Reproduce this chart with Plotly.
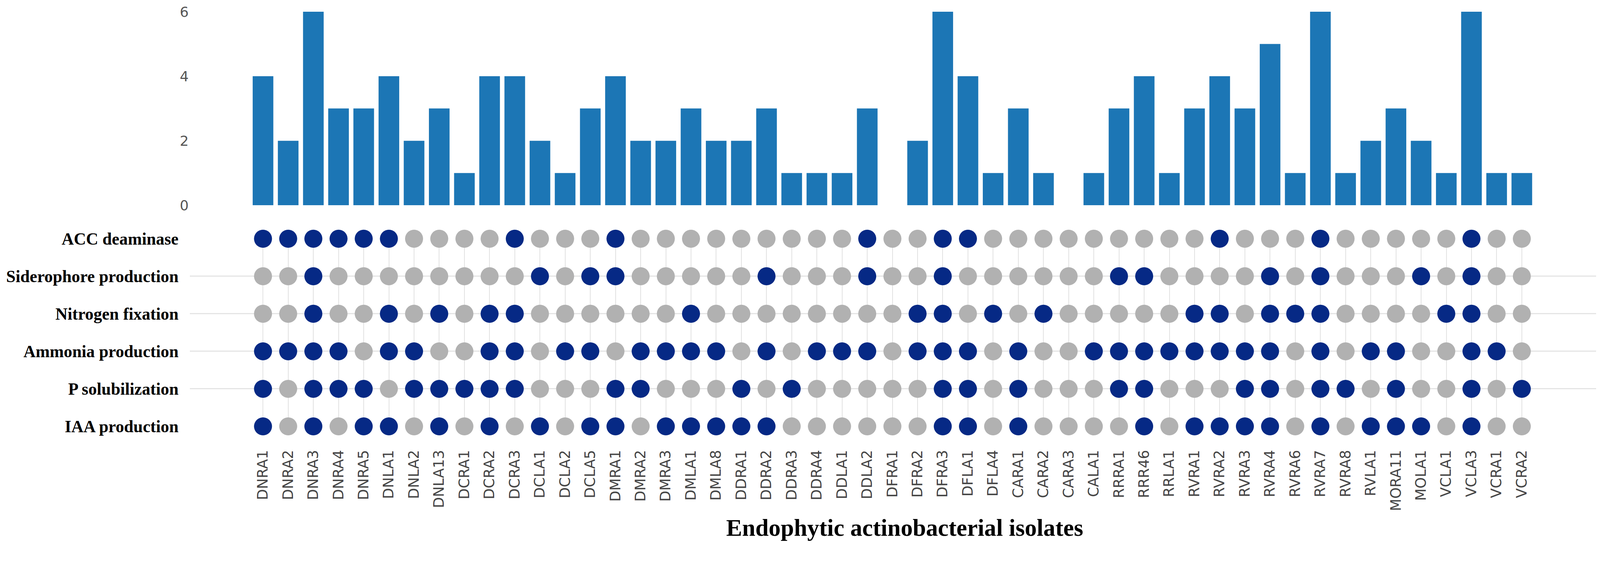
import plotly.graph_objects as go

# isolates, left to right
isolates = ["DNRA1", "DNRA2", "DNRA3", "DNRA4", "DNRA5", "DNLA1", "DNLA2", "DNLA13",
            "DCRA1", "DCRA2", "DCRA3", "DCLA1", "DCLA2", "DCLA5", "DMRA1", "DMRA2",
            "DMRA3", "DMLA1", "DMLA8", "DDRA1", "DDRA2", "DDRA3", "DDRA4", "DDLA1",
            "DDLA2", "DFRA1", "DFRA2", "DFRA3", "DFLA1", "DFLA4", "CARA1", "CARA2",
            "CARA3", "CALA1", "RRRA1", "RRR46", "RRLA1", "RVRA1", "RVRA2", "RVRA3",
            "RVRA4", "RVRA6", "RVRA7", "RVRA8", "RVLA1", "MORA11", "MOLA1", "VCLA1",
            "VCLA3", "VCRA1", "VCRA2"]

# number of positive traits per isolate (bar heights)
counts = [4, 2, 6, 3, 3, 4, 2, 3, 1, 4, 4, 2, 1, 3, 4, 2, 2, 3, 2, 2, 3, 1, 1, 1, 3,
          0, 2, 6, 4, 1, 3, 1, 0, 1, 3, 4, 1, 3, 4, 3, 5, 1, 6, 1, 2, 3, 2, 1, 6, 1, 1]

# 1 = positive, 0 = negative
acc = [1, 1, 1, 1, 1, 1, 0, 0, 0, 0, 1, 0, 0, 0, 1, 0, 0, 0, 0, 0, 0, 0, 0, 0, 1,
       0, 0, 1, 1, 0, 0, 0, 0, 0, 0, 0, 0, 0, 1, 0, 0, 0, 1, 0, 0, 0, 0, 0, 1, 0, 0]
siderophore = [0, 0, 1, 0, 0, 0, 0, 0, 0, 0, 0, 1, 0, 1, 1, 0, 0, 0, 0, 0, 1, 0, 0, 0, 1,
               0, 0, 1, 0, 0, 0, 0, 0, 0, 1, 1, 0, 0, 0, 0, 1, 0, 1, 0, 0, 0, 1, 0, 1, 0, 0]
nitrogen = [0, 0, 1, 0, 0, 1, 0, 1, 0, 1, 1, 0, 0, 0, 0, 0, 0, 1, 0, 0, 0, 0, 0, 0, 0,
            0, 1, 1, 0, 1, 0, 1, 0, 0, 0, 0, 0, 1, 1, 0, 1, 1, 1, 0, 0, 0, 0, 1, 1, 0, 0]
ammonia = [1, 1, 1, 1, 0, 1, 1, 0, 0, 1, 1, 0, 1, 1, 0, 1, 1, 1, 1, 0, 1, 0, 1, 1, 1,
           0, 1, 1, 1, 0, 1, 0, 0, 1, 1, 1, 1, 1, 1, 1, 1, 0, 1, 0, 1, 1, 0, 0, 1, 1, 0]
psol = [1, 0, 1, 1, 1, 0, 1, 1, 1, 1, 1, 0, 0, 0, 1, 1, 0, 0, 0, 1, 0, 1, 0, 0, 0,
        0, 0, 1, 1, 0, 1, 0, 0, 0, 1, 1, 0, 0, 0, 1, 1, 0, 1, 1, 0, 1, 0, 0, 1, 0, 1]
iaa = [1, 0, 1, 0, 1, 1, 0, 1, 0, 1, 0, 1, 0, 1, 1, 0, 1, 1, 1, 1, 1, 0, 0, 0, 0,
       0, 0, 1, 1, 0, 1, 0, 0, 0, 0, 1, 0, 1, 1, 1, 1, 0, 1, 0, 1, 1, 1, 0, 1, 0, 0]

traits = ["ACC deaminase", "Siderophore production", "Nitrogen fixation",
          "Ammonia production", "P solubilization", "IAA production"]
trait_rows = [acc, siderophore, nitrogen, ammonia, psol, iaa]

BAR_COLOR = "#1c76b5"
ON_COLOR = "#062985"
OFF_COLOR = "#b1b1b1"

# the page is photographed at 4353 px for a 4096 css px viewport,
# and the body keeps its 8 px margin, so work in photo pixels and convert
K = 4353 / 4096
BODY = 8
FIG_W, FIG_H = 4084, 1384

# plot area in photo pixels
LEFT, RIGHT, TOP, BOTTOM = 517, 4342, 32, 1159
XRANGE = [-2.906, 52.95]


def css(v):
    # photo pixel position -> css position inside the figure
    return v / K - BODY


def sz(v):
    # photo pixel length -> css length
    return v / K


def frac(y_px):
    return (BOTTOM - y_px) / (BOTTOM - TOP)


def main():
    fig = go.Figure()

    fig.add_bar(x=isolates, y=counts, xaxis="x2", yaxis="y2",
                marker=dict(color=BAR_COLOR, line=dict(width=0)),
                showlegend=False, hoverinfo="x+y")

    xs, ys, cols = [], [], []
    for name, row in zip(traits, trait_rows):
        for iso, v in zip(isolates, row):
            xs.append(iso)
            ys.append(name)
            cols.append(ON_COLOR if v else OFF_COLOR)
    fig.add_scatter(x=xs, y=ys, mode="markers", cliponaxis=False,
                    marker=dict(size=sz(49), color=cols, line=dict(width=0)),
                    showlegend=False, hoverinfo="x+y")

    fig.update_layout(
        width=FIG_W, height=FIG_H,
        template="plotly_white",
        paper_bgcolor="white", plot_bgcolor="white",
        margin=dict(l=css(LEFT), r=FIG_W - css(RIGHT), t=css(TOP),
                    b=FIG_H - css(BOTTOM), autoexpand=False),
        bargap=0.18,
        xaxis=dict(domain=[0, 1], anchor="y", type="category", categoryarray=isolates,
                   range=XRANGE, automargin=False, tickangle=-90,
                   showgrid=True, gridcolor="#e2e2e2", gridwidth=2,
                   zeroline=False, showline=False, ticks="",
                   ticklabelstandoff=round(sz(55)),
                   tickfont=dict(family="DejaVu Sans", size=sz(39), color="#454545")),
        yaxis=dict(domain=[0, frac(649)], anchor="x", type="category",
                   categoryarray=list(reversed(traits)), range=[0, 5],
                   automargin=False, showgrid=True, gridcolor="#e5e5e5", gridwidth=3,
                   zeroline=False, showline=False, ticks="",
                   ticklabelstandoff=round(sz(30)),
                   tickfont=dict(family="Liberation Serif", size=sz(46), color="black",
                                 weight="bold")),
        xaxis2=dict(domain=[0, 1], anchor="y2", type="category", categoryarray=isolates,
                    range=XRANGE, automargin=False, showticklabels=False,
                    showgrid=False, zeroline=False, showline=False, ticks=""),
        yaxis2=dict(domain=[frac(558), 1], anchor="x2", range=[0, 6],
                    tickvals=[0, 2, 4, 6], automargin=False,
                    showgrid=False, zeroline=False, showline=False, ticks="",
                    ticklabelstandoff=2, ticklabeloverflow="allow",
                    tickfont=dict(family="DejaVu Sans", size=sz(38), color="#555555")),
        annotations=[dict(text="<b>Endophytic actinobacterial isolates</b>",
                          xref="paper", yref="paper",
                          x=(2461 - LEFT) / (RIGHT - LEFT), y=frac(1434),
                          xanchor="center", yanchor="middle", showarrow=False,
                          font=dict(family="Liberation Serif", size=sz(65), color="black"))],
    )

    fig.write_html("out.html")


if __name__ == "__main__":
    main()
